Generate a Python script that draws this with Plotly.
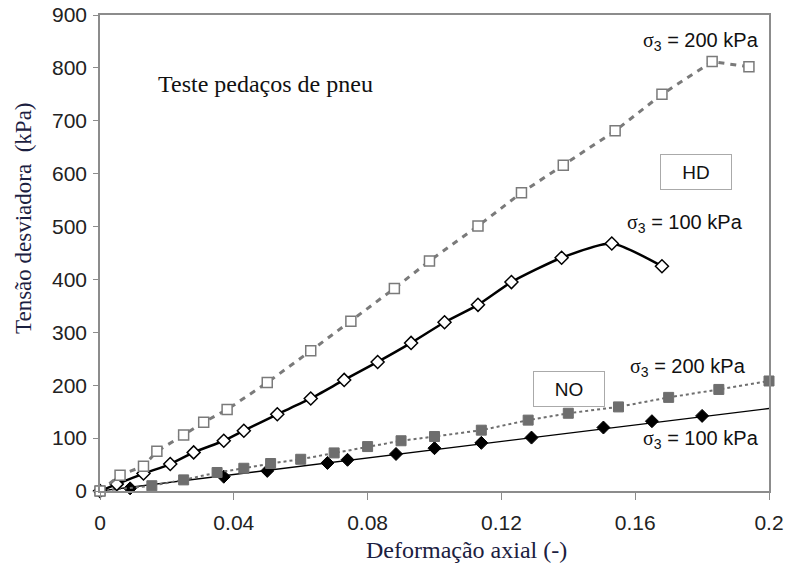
import plotly.graph_objects as go

# Axial strain (-) and deviator stress (kPa) for shredded tyre triaxial tests
hd200_x = [0, 0.006, 0.013, 0.017, 0.025, 0.031, 0.038, 0.050, 0.063, 0.075,
           0.088, 0.0985, 0.113, 0.126, 0.1385, 0.154, 0.168, 0.183, 0.194]
hd200_y = [0, 30, 47, 75, 106, 130, 154, 205, 265, 321,
           383, 435, 501, 564, 616, 681, 750, 812, 802]

hd100_x = [0, 0.005, 0.013, 0.021, 0.028, 0.037, 0.043, 0.053, 0.063, 0.073,
           0.083, 0.093, 0.103, 0.113, 0.123, 0.138, 0.153, 0.168]
hd100_y = [0, 13, 33, 51, 73, 95, 114, 145, 175, 210,
           244, 280, 319, 352, 395, 441, 468, 425]

no200_x = [0, 0.0155, 0.025, 0.035, 0.043, 0.051, 0.060, 0.070, 0.080, 0.090,
           0.100, 0.114, 0.128, 0.140, 0.155, 0.170, 0.185, 0.200]
no200_y = [0, 10, 21, 35, 43, 52, 60, 72, 84, 95,
           103, 115, 134, 147, 159, 177, 192, 208]

no100_x = [0, 0.009, 0.037, 0.050, 0.068, 0.074, 0.0885, 0.100, 0.114, 0.129,
           0.1505, 0.165, 0.180]
no100_y = [0, 5, 27, 38, 53, 59, 70, 81, 91, 101, 120, 132, 142]
# fitted line for NO / 100 kPa carried to the end of the axis
no100_line_x = [0, 0.200]
no100_line_y = [0, 156]

x_ticks = [0, 0.04, 0.08, 0.12, 0.16, 0.2]
x_tick_text = ["0", "0.04", "0.08", "0.12", "0.16", "0.2"]
y_ticks = [0, 100, 200, 300, 400, 500, 600, 700, 800, 900]

SANS = "Liberation Sans, Arial, sans-serif"
SERIF = "Liberation Serif, Times New Roman, serif"
SIG = '<span style="font-family:Liberation Serif">σ</span><sub>3</sub>'
TITLE_COLOR = "#1b2040"

fig = go.Figure()

fig.add_trace(go.Scatter(
    x=no100_line_x, y=no100_line_y, mode="lines",
    line=dict(color="black", width=1.3), hoverinfo="skip", showlegend=False))
fig.add_trace(go.Scatter(
    x=no100_x, y=no100_y, mode="markers", cliponaxis=False,
    marker=dict(symbol="diamond", size=10, color="black",
                line=dict(color="black", width=1)),
    showlegend=False))

fig.add_trace(go.Scatter(
    x=no200_x, y=no200_y, mode="lines+markers", cliponaxis=False,
    line=dict(color="#6e6e6e", width=2, dash="dot"),
    marker=dict(symbol="square", size=10, color="#6e6e6e",
                line=dict(color="#6e6e6e", width=1)),
    showlegend=False))

fig.add_trace(go.Scatter(
    x=hd100_x, y=hd100_y, mode="lines+markers", cliponaxis=False,
    line=dict(color="black", width=2.5, shape="spline", smoothing=0.6),
    marker=dict(symbol="diamond", size=10, color="white",
                line=dict(color="black", width=1.5)),
    showlegend=False))

fig.add_trace(go.Scatter(
    x=hd200_x, y=hd200_y, mode="lines+markers", cliponaxis=False,
    line=dict(color="#7a7a7a", width=3, dash="6px,6px"),
    marker=dict(symbol="square", size=10, color="white",
                line=dict(color="#7a7a7a", width=1.5)),
    showlegend=False))


def label(text, x, y, size=20, font=SANS, color="#111", **kw):
    fig.add_annotation(text=text, x=x, y=y, xref="x", yref="y",
                       xanchor="center", yanchor="middle",
                       showarrow=False, font=dict(family=font, size=size, color=color),
                       **kw)


label("Teste pedaços de pneu", 0.0495, 769, size=24, font=SERIF)
label(SIG + " = 200 kPa", 0.1797, 849)
label(SIG + " = 100 kPa", 0.1750, 505)
label(SIG + " = 200 kPa", 0.1759, 234)
label(SIG + " = 100 kPa", 0.1796, 98)
label("HD", 0.1782, 603, size=19, bordercolor="#aaaaaa", borderwidth=1,
      borderpad=5, bgcolor="white", width=60, height=24)
label("NO", 0.1402, 192, size=19, bordercolor="#aaaaaa", borderwidth=1,
      borderpad=5, bgcolor="white", width=60, height=24)

W, H = 787, 565
ML, MR, MT, MB = 100, 18, 15, 74
PW, PH = W - ML - MR, H - MT - MB

# axis titles, centred on pixel positions converted to paper fractions
fig.add_annotation(text="Deformação axial (-)", x=(466 - ML) / PW, y=(H - MB - 550) / PH,
                   xref="paper", yref="paper", xanchor="center", yanchor="middle",
                   showarrow=False, font=dict(family=SERIF, size=24, color=TITLE_COLOR))
fig.add_annotation(text="Tensão desviadora  (kPa)", x=(23 - ML) / PW, y=(H - MB - 218) / PH,
                   xref="paper", yref="paper", xanchor="center", yanchor="middle",
                   textangle=-90, showarrow=False,
                   font=dict(family=SERIF, size=23, color=TITLE_COLOR))

axis_common = dict(showgrid=False, zeroline=False, showline=True, linecolor="#8c8c8c",
                   linewidth=1.5, mirror=True, ticks="outside", tickcolor="#8c8c8c",
                   automargin=False,
                   tickfont=dict(family=SANS, size=21, color="#222"))

fig.update_xaxes(range=[0, 0.2], tickvals=x_ticks, ticktext=x_tick_text, ticklen=7,
                 ticklabelstandoff=5, **axis_common)
fig.update_yaxes(range=[0, 900], tickvals=y_ticks, ticklen=5, ticklabelstandoff=2,
                 **axis_common)

fig.update_layout(width=W, height=H, plot_bgcolor="white", paper_bgcolor="white",
                  margin=dict(l=ML, r=MR, t=MT, b=MB))

fig.write_html("out.html")
